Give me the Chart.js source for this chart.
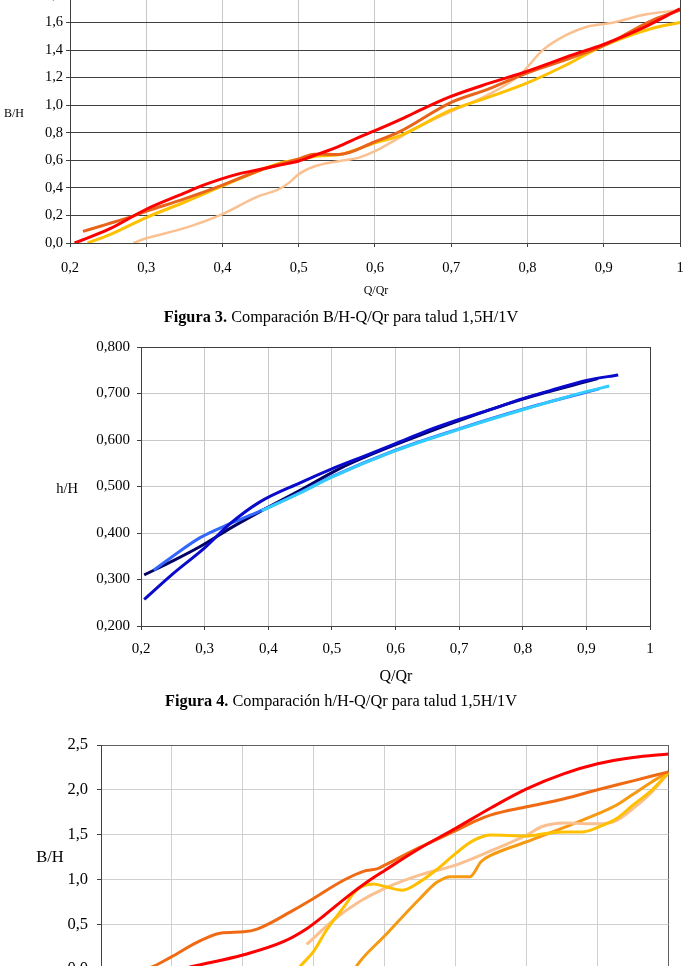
<!DOCTYPE html>
<html>
<head>
<meta charset="utf-8">
<script src="https://cdn.jsdelivr.net/npm/chart.js@4.4.1/dist/chart.umd.min.js"></script>
<style>
html, body { margin: 0; padding: 0; background: #fff; }
body { width: 684px; height: 966px; overflow: hidden; position: relative; font-family: 'Liberation Serif', 'Times New Roman', serif; color: #000; }
canvas { position: absolute; left: 0; }
.c { position: absolute; transform: translate(-50%, -50%); white-space: nowrap; line-height: 1; }
</style>
</head>
<body>
<canvas id="fig3" width="720" height="325" style="top:-25px"></canvas>
<canvas id="fig4" width="720" height="360" style="top:330px"></canvas>
<canvas id="fig5" width="720" height="300" style="top:725px"></canvas>

<div class="c" style="left:14px;top:113px;font-size:12px">B/H</div>
<div class="c" style="left:376px;top:290px;font-size:12px">Q/Qr</div>
<div class="c" style="left:341px;top:317px;font-size:16.3px"><b>Figura 3.</b> Comparación B/H-Q/Qr para talud 1,5H/1V</div>

<div class="c" style="left:67px;top:488px;font-size:14.5px">h/H</div>
<div class="c" style="left:396px;top:676px;font-size:16px">Q/Qr</div>
<div class="c" style="left:341px;top:701px;font-size:16.3px"><b>Figura 4.</b> Comparación h/H-Q/Qr para talud 1,5H/1V</div>

<div class="c" style="left:50px;top:857px;font-size:16.5px">B/H</div>

<script>
const serif = "'Liberation Serif', 'Times New Roman', serif";

// shared x ticks (Q/Qr)
const qTicks = [0.2, 0.3, 0.4, 0.5, 0.6, 0.7, 0.8, 0.9, 1];

// Figura 3: B/H - Q/Qr
const f3YTicks = [0, 0.2, 0.4, 0.6, 0.8, 1.0, 1.2, 1.4, 1.6, 1.8];
const f3Red = [[0.206,0],[0.251,0.10],[0.30,0.245],[0.349,0.36],[0.375,0.42],[0.42,0.50],[0.45,0.535],[0.475,0.565],[0.50,0.595],[0.52,0.635],[0.552,0.70],[0.578,0.765],[0.60,0.815],[0.633,0.895],[0.65,0.94],[0.698,1.06],[0.75,1.16],[0.799,1.246],[0.86,1.367],[0.899,1.44],[0.947,1.55],[1.0,1.70]];
const f3Orange = [[0.217,0.084],[0.249,0.137],[0.28,0.19],[0.30,0.23],[0.349,0.318],[0.40,0.42],[0.45,0.53],[0.50,0.61],[0.52,0.645],[0.552,0.642],[0.60,0.735],[0.633,0.81],[0.698,1.016],[0.75,1.12],[0.799,1.234],[0.85,1.33],[0.899,1.43],[0.965,1.62],[1.0,1.69]];
const f3Yellow = [[0.223,0],[0.249,0.053],[0.30,0.185],[0.349,0.294],[0.40,0.414],[0.45,0.53],[0.475,0.58],[0.50,0.606],[0.526,0.632],[0.552,0.64],[0.578,0.683],[0.60,0.727],[0.633,0.78],[0.698,0.96],[0.75,1.06],[0.799,1.16],[0.85,1.29],[0.895,1.42],[0.965,1.56],[1.0,1.60]];
const f3Peach = [[0.283,0],[0.30,0.034],[0.349,0.106],[0.40,0.21],[0.446,0.337],[0.472,0.385],[0.488,0.44],[0.50,0.50],[0.52,0.555],[0.552,0.594],[0.578,0.618],[0.60,0.666],[0.624,0.739],[0.65,0.823],[0.70,0.955],[0.75,1.08],[0.79,1.22],[0.82,1.40],[0.851,1.51],[0.878,1.57],[0.913,1.60],[0.956,1.66],[1.0,1.69]];

// Figura 4: h/H - Q/Qr
const f4YTicks = [0.2, 0.3, 0.4, 0.5, 0.6, 0.7, 0.8];
const f4Blue = [[0.205,0.257],[0.25,0.312],[0.3,0.368],[0.34,0.42],[0.387,0.467],[0.45,0.508],[0.5,0.538],[0.55,0.565],[0.6,0.592],[0.65,0.62],[0.7,0.644],[0.75,0.666],[0.8,0.689],[0.85,0.709],[0.9,0.728],[0.95,0.74]];
const f4Navy = [[0.205,0.31],[0.25,0.34],[0.293,0.371],[0.34,0.41],[0.387,0.446],[0.45,0.492],[0.513,0.539],[0.55,0.562],[0.6,0.59],[0.7,0.642],[0.8,0.688],[0.918,0.732]];
const f4Royal = [[0.22,0.32],[0.25,0.35],[0.293,0.39],[0.34,0.42],[0.387,0.447],[0.45,0.487],[0.5,0.521],[0.6,0.578],[0.7,0.624],[0.8,0.666],[0.92,0.71]];
const f4Cyan = [[0.39,0.448],[0.45,0.486],[0.5,0.52],[0.6,0.577],[0.7,0.623],[0.8,0.665],[0.9,0.704],[0.936,0.716]];

// Figura 5: B/H - Q/Qr (cut at the bottom)
const f5YTicks = [0, 0.5, 1.0, 1.5, 2.0, 2.5];
const f5Red = [[0.315,0],[0.33,0.03],[0.40,0.156],[0.457,0.305],[0.49,0.45],[0.515,0.60],[0.546,0.80],[0.575,0.97],[0.60,1.10],[0.65,1.35],[0.70,1.57],[0.75,1.80],[0.80,2.01],[0.853,2.18],[0.90,2.29],[0.95,2.36],[1.0,2.40]];
const f5Orange = [[0.262,0],[0.274,0.03],[0.298,0.13],[0.336,0.30],[0.368,0.40],[0.401,0.415],[0.42,0.445],[0.472,0.66],[0.50,0.79],[0.542,0.99],[0.57,1.09],[0.59,1.12],[0.60,1.16],[0.65,1.36],[0.70,1.545],[0.73,1.66],[0.75,1.72],[0.80,1.81],[0.853,1.90],[0.90,2.0],[0.95,2.10],[1.0,2.20]];
const f5Gold = [[0.478,0],[0.481,0.03],[0.50,0.20],[0.518,0.435],[0.545,0.72],[0.556,0.845],[0.567,0.92],[0.584,0.95],[0.60,0.92],[0.625,0.88],[0.65,0.975],[0.674,1.115],[0.70,1.29],[0.724,1.43],[0.75,1.495],[0.80,1.485],[0.829,1.515],[0.853,1.53],[0.878,1.53],[0.90,1.58],[0.927,1.68],[0.95,1.83],[0.977,2.0],[1.0,2.19]];
const f5Peach = [[0.49,0.275],[0.528,0.547],[0.564,0.75],[0.60,0.90],[0.65,1.05],[0.70,1.16],[0.75,1.32],[0.80,1.495],[0.822,1.59],[0.853,1.63],[0.90,1.62],[0.927,1.66],[0.95,1.79],[0.977,1.98],[1.0,2.19]];
const f5Amber = [[0.558,0],[0.56,0.03],[0.60,0.37],[0.65,0.79],[0.674,0.97],[0.693,1.03],[0.72,1.03],[0.736,1.20],[0.75,1.27],[0.80,1.42],[0.853,1.58],[0.90,1.73],[0.927,1.83],[0.95,1.95],[0.977,2.09],[1.0,2.20]];

function comma(digits) {
    return v => Math.abs(v - 1) < 1e-9 && digits === 0 ? '1' : v.toFixed(digits || 1).replace('.', ',');
}

function line(points, color, width) {
    return {
        data: points.map(p => ({ x: p[0], y: p[1] })),
        borderColor: color,
        borderWidth: width || 3,
        pointRadius: 0,
        cubicInterpolationMode: 'monotone',
        fill: false
    };
}

function axis(o) {
    const last = o.ticks[o.ticks.length - 1];
    return {
        type: 'linear',
        min: o.ticks[0],
        max: last,
        afterBuildTicks: s => { s.ticks = o.ticks.map(v => ({ value: v })); },
        afterFit: s => { if (o.horizontal) s.height = o.size; else s.width = o.size; },
        ticks: {
            font: { family: serif, size: o.font },
            color: '#000',
            padding: o.pad,
            maxRotation: 0,
            autoSkip: false,
            callback: o.fmt
        },
        grid: {
            color: ctx => (ctx.tick && Math.abs(ctx.tick.value - last) < 1e-9 && o.frame) ? o.frame : o.grid,
            lineWidth: 1,
            tickLength: 4,
            tickColor: '#404040'
        },
        border: { color: '#404040', width: 1 }
    };
}

// the canvases are 720 wide, so right padding = 720 - plot right edge
function makeChart(id, datasets, pad, xOpt, yOpt) {
    return new Chart(document.getElementById(id), {
        type: 'line',
        data: { datasets: datasets },
        options: {
            responsive: false,
            animation: false,
            layout: { autoPadding: false, padding: pad },
            scales: { x: axis(Object.assign({ horizontal: true }, xOpt)), y: axis(yOpt) },
            plugins: { legend: { display: false }, tooltip: { enabled: false } }
        }
    });
}

// 1. Figura 3
makeChart('fig3', [
    line(f3Red, '#FF0000'),
    line(f3Orange, '#E8641A'),
    line(f3Yellow, '#FFC000'),
    line(f3Peach, '#FAC090', 2.5)
], { left: 0, right: 40, top: 20, bottom: 0 },
    { ticks: qTicks, size: 57, font: 14.5, pad: 12, fmt: comma(0), grid: '#c8c8c8', frame: '#404040' },
    { ticks: f3YTicks, size: 70, font: 14.5, pad: 3, fmt: comma(1), grid: '#404040' });

// 2. Figura 4
makeChart('fig4', [
    line(f4Blue, '#0A0ACC'),
    line(f4Cyan, '#33CCFF'),
    line(f4Royal, '#3366FF'),
    line(f4Navy, '#000066')
], { left: 0, right: 70, top: 17, bottom: 0 },
    { ticks: qTicks, size: 64, font: 15, pad: 10, fmt: comma(0), grid: '#c8c8c8', frame: '#404040' },
    { ticks: f4YTicks, size: 141, font: 15, pad: 7, fmt: comma(3), grid: '#c8c8c8', frame: '#404040' });

// 3. Figura 5
makeChart('fig5', [
    line(f5Red, '#FF0000'),
    line(f5Orange, '#F06A14'),
    line(f5Gold, '#FFC000'),
    line(f5Peach, '#FAC090'),
    line(f5Amber, '#F59A12')
], { left: 0, right: 51.5, top: 20, bottom: 0 },
    { ticks: qTicks, size: 56, font: 16.5, pad: 11, fmt: comma(0), grid: '#d0d0d0', frame: '#606060' },
    { ticks: f5YTicks, size: 101, font: 16.5, pad: 9, fmt: comma(1), grid: '#d0d0d0', frame: '#606060' });
</script>
</body>
</html>
